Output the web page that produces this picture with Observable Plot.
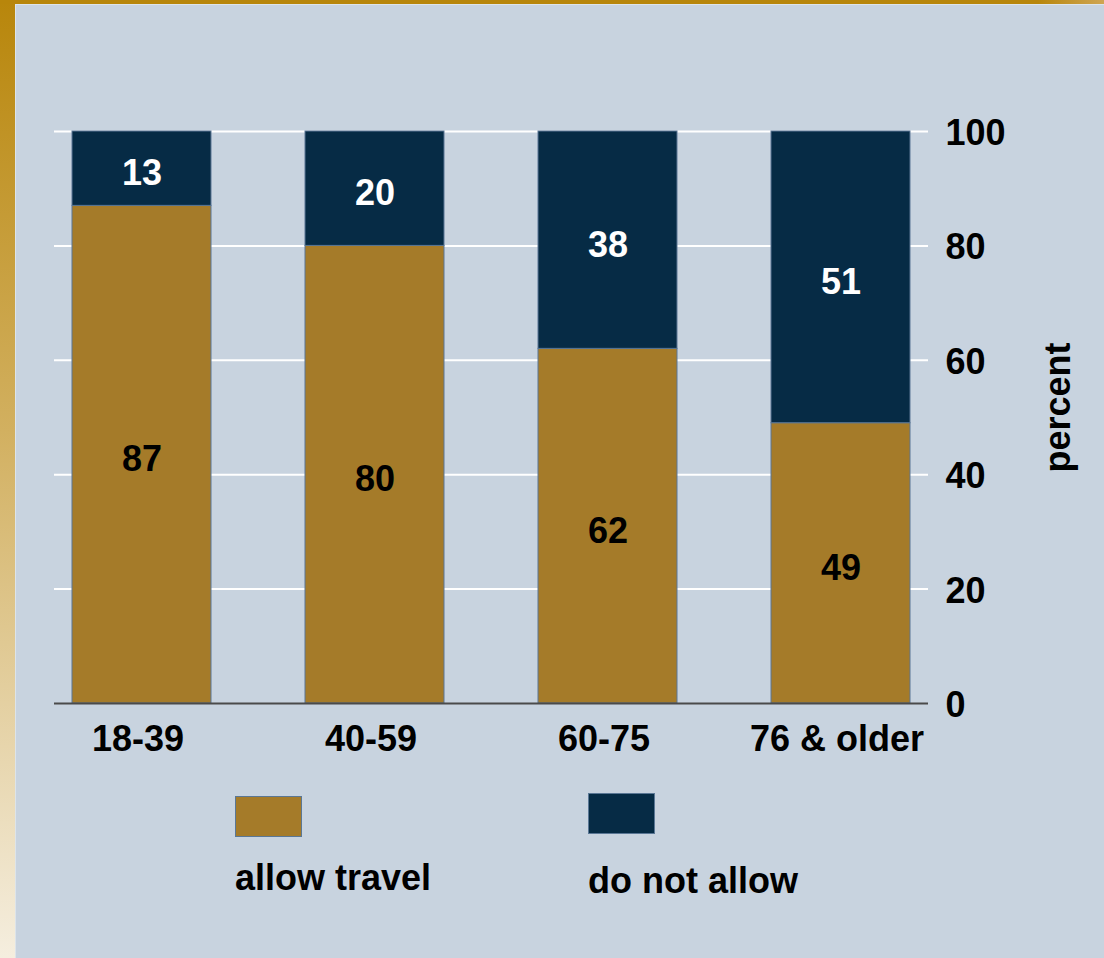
<!DOCTYPE html>
<html>
<head>
<meta charset="utf-8">
<script src="https://cdn.jsdelivr.net/npm/d3@7"></script>
<script src="https://cdn.jsdelivr.net/npm/@observablehq/plot@0.6"></script>
<style>
  html, body { margin: 0; padding: 0; overflow: hidden; }
  body { width: 1104px; height: 958px; position: relative; font-family: "Liberation Sans", Arial, sans-serif; }
  #leftbar { position: absolute; left: 0; top: 0; width: 15px; height: 958px;
    background: linear-gradient(to bottom, #b8860b 0%, #d2b060 45%, #f5eedf 100%); }
  #topbar { position: absolute; left: 0; top: 0; width: 1104px; height: 4px;
    background: linear-gradient(to right, #b8860b 0%, #b8860b 94%, #cfa552 100%); }
  #panel { position: absolute; left: 15px; top: 4px; width: 1089px; height: 954px;
    background: #c8d3df; box-shadow: inset 1px 1px 0 #dde4ea; }
  #chart { position: absolute; left: 0; top: 0; width: 1104px; }
  .sw { position: absolute; box-sizing: border-box; border: 1px solid #5a7795; }
  .lt { position: absolute; font-weight: bold; font-size: 36px; color: #000; line-height: 1; white-space: nowrap; }
</style>
</head>
<body>
<div id="leftbar"></div>
<div id="topbar"></div>
<div id="panel"></div>
<div id="chart"></div>
<script>
const ages = ["18-39", "40-59", "60-75", "76 & older"];
const allowTravel = [87, 80, 62, 49];
const doNotAllow = [13, 20, 38, 51];
const seriesNames = ["allow travel", "do not allow"];
const seriesColors = ["#a57b29", "#062b45"];
const yTicks = [0, 20, 40, 60, 80, 100];
const axisTitle = "percent";

const rows = [];
ages.forEach((a, i) => {
  rows.push({age: a, series: seriesNames[0], value: allowTravel[i]});
  rows.push({age: a, series: seriesNames[1], value: doNotAllow[i]});
});

const chart = Plot.plot({
  width: 1104,
  height: 760,
  marginLeft: 54,
  marginRight: 176,
  marginTop: 131,
  marginBottom: 57,
  style: {background: "transparent", fontFamily: "'Liberation Sans', Arial, sans-serif", fontSize: "36px", fontWeight: "bold", color: "#000"},
  x: {domain: ages, paddingInner: 0.405, paddingOuter: 0.073, label: null},
  y: {domain: [0, 100], label: null},
  color: {domain: seriesNames, range: seriesColors},
  marks: [
    Plot.ruleY(yTicks.filter(t => t > 0), {stroke: "white", strokeWidth: 2}),
    Plot.barY(rows, {x: "age", y: "value", fill: "series", stroke: "#5a7795", strokeWidth: 1}),
    Plot.ruleY([0], {stroke: "#4a4a4a", strokeWidth: 2}),
    Plot.text(rows.filter(d => d.series === seriesNames[0]), Plot.stackY({x: "age", y: "value", text: "value", fill: "black", dy: 5, fontSize: 36, fontWeight: "bold"})),
    Plot.text(rows, Plot.stackY({x: "age", y: "value", text: d => d.series === seriesNames[1] ? d.value : "", fill: "white", dy: 5, fontSize: 36, fontWeight: "bold"})),
    Plot.axisY({anchor: "right", ticks: yTicks, tickSize: 0, tickPadding: 17, label: null, fontSize: 36, fontWeight: "bold", dy: 2}),
    Plot.axisX({anchor: "bottom", tickSize: 0, tickPadding: 22, label: null, fontSize: 36, fontWeight: "bold", dx: -4}),
    Plot.text([axisTitle], {frameAnchor: "right", text: d => d, rotate: -90, textAnchor: "middle", lineAnchor: "middle", dx: 130, dy: -10, fontSize: 36, fontWeight: "bold", fill: "black"})
  ]
});
document.getElementById("chart").appendChild(chart);

// legend
const legendPos = [
  {sx: 235, sy: 796, tx: 235, ty: 860},
  {sx: 588, sy: 793, tx: 588, ty: 863}
];
seriesNames.forEach((name, i) => {
  const sw = document.createElement("div");
  sw.className = "sw";
  sw.style.left = legendPos[i].sx + "px";
  sw.style.top = legendPos[i].sy + "px";
  sw.style.width = "67px";
  sw.style.height = "41px";
  sw.style.background = seriesColors[i];
  document.body.appendChild(sw);
  const t = document.createElement("div");
  t.className = "lt";
  t.style.left = legendPos[i].tx + "px";
  t.style.top = legendPos[i].ty + "px";
  t.textContent = name;
  document.body.appendChild(t);
});
</script>
</body>
</html>
